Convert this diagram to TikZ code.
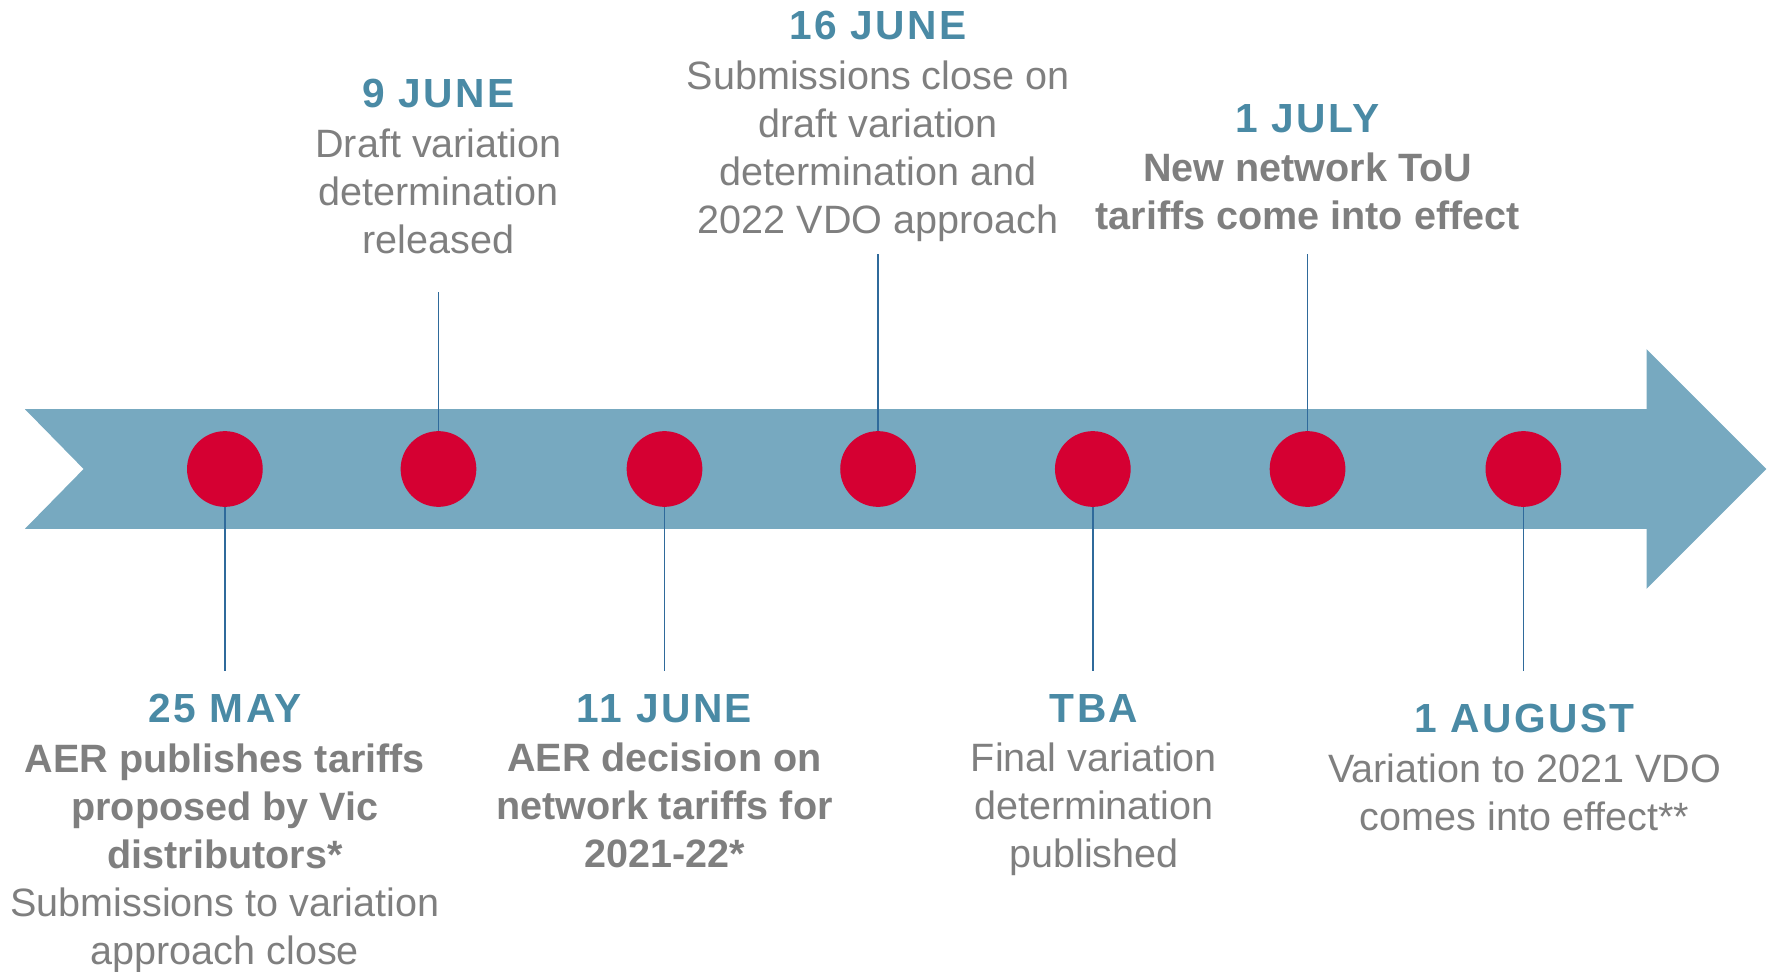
\documentclass[tikz,border=0pt]{standalone}
\usepackage{fontspec}
\setmainfont{Liberation Sans}
\newfontfamily\datefont[LetterSpace=6]{Liberation Sans}
\definecolor{bandblue}{HTML}{77A9C0}
\definecolor{dotred}{HTML}{D50032}
\definecolor{stemblue}{HTML}{2F6A9B}
\definecolor{datecol}{HTML}{4A8AA5}
\definecolor{txtgray}{HTML}{7F7F7F}
\newcommand{\when}[1]{{\datefont\bfseries\fontsize{36}{42.5}\selectfont\color{datecol}#1}}
\begin{document}
\begin{tikzpicture}[x=1pt,y=1pt,
  dot/.style={circle,fill=dotred,minimum size=67pt,inner sep=0pt},
  stem/.style={draw=stemblue,line width=1.2pt},
  lbl/.style={anchor=north,align=center,inner sep=0pt,text=txtgray,
    font=\fontsize{35}{42.5}\selectfont}]
  \useasboundingbox (0,0) rectangle (1568,-860);
  \fill[bandblue] (22,-362) -- (1457,-362) -- (1457,-309) -- (1563,-415)
    -- (1457,-521) -- (1457,-468) -- (22,-468) -- (74,-415) -- cycle;
  \node[dot] (d1) at (199,-415) {};
  \node[dot] (d2) at (388,-415) {};
  \node[dot] (d3) at (588,-415) {};
  \node[dot] (d4) at (777,-415) {};
  \node[dot] (d5) at (967,-415) {};
  \node[dot] (d6) at (1157,-415) {};
  \node[dot] (d7) at (1348,-415) {};
  \coordinate (e1) at (199,-594);
  \coordinate (e2) at (388,-258);
  \coordinate (e3) at (588,-594);
  \coordinate (e4) at (777,-225);
  \coordinate (e5) at (967,-594);
  \coordinate (e6) at (1157,-225);
  \coordinate (e7) at (1348,-594);
  \draw[stem] (d1) -- (e1);
  \draw[stem] (d2) -- (e2);
  \draw[stem] (d3) -- (e3);
  \draw[stem] (d4) -- (e4);
  \draw[stem] (d5) -- (e5);
  \draw[stem] (d6) -- (e6);
  \draw[stem] (d7) -- (e7);
  \node[lbl] (t2) at (388,-70) {\when{9 JUNE}\\[1.5pt]Draft variation\\determination\\released};
  \node[lbl] (t4) at (777,-10) {\when{16 JUNE}\\[1.5pt]Submissions close on\\draft variation\\determination and\\2022 VDO approach};
  \node[lbl] (t6) at (1157,-92) {\when{1 JULY}\\[1.5pt]\textbf{New network ToU}\\\textbf{tariffs come into effect}};
  \node[lbl] (t1) at (199,-614) {\when{25 MAY}\\[1.5pt]\textbf{AER publishes tariffs}\\\textbf{proposed by Vic}\\\textbf{distributors*}\\Submissions to variation\\approach close};
  \node[lbl] (t3) at (588,-614) {\when{11 JUNE}\\[1.5pt]\textbf{AER decision on}\\\textbf{network tariffs for}\\\textbf{2021-22*}};
  \node[lbl] (t5) at (968,-614) {\when{TBA}\\[1.5pt]Final variation\\determination\\published};
  \node[lbl] (t7) at (1349,-623) {\when{1 AUGUST}\\[1.5pt]Variation to 2021 VDO\\comes into effect**};
\end{tikzpicture}
\end{document}
